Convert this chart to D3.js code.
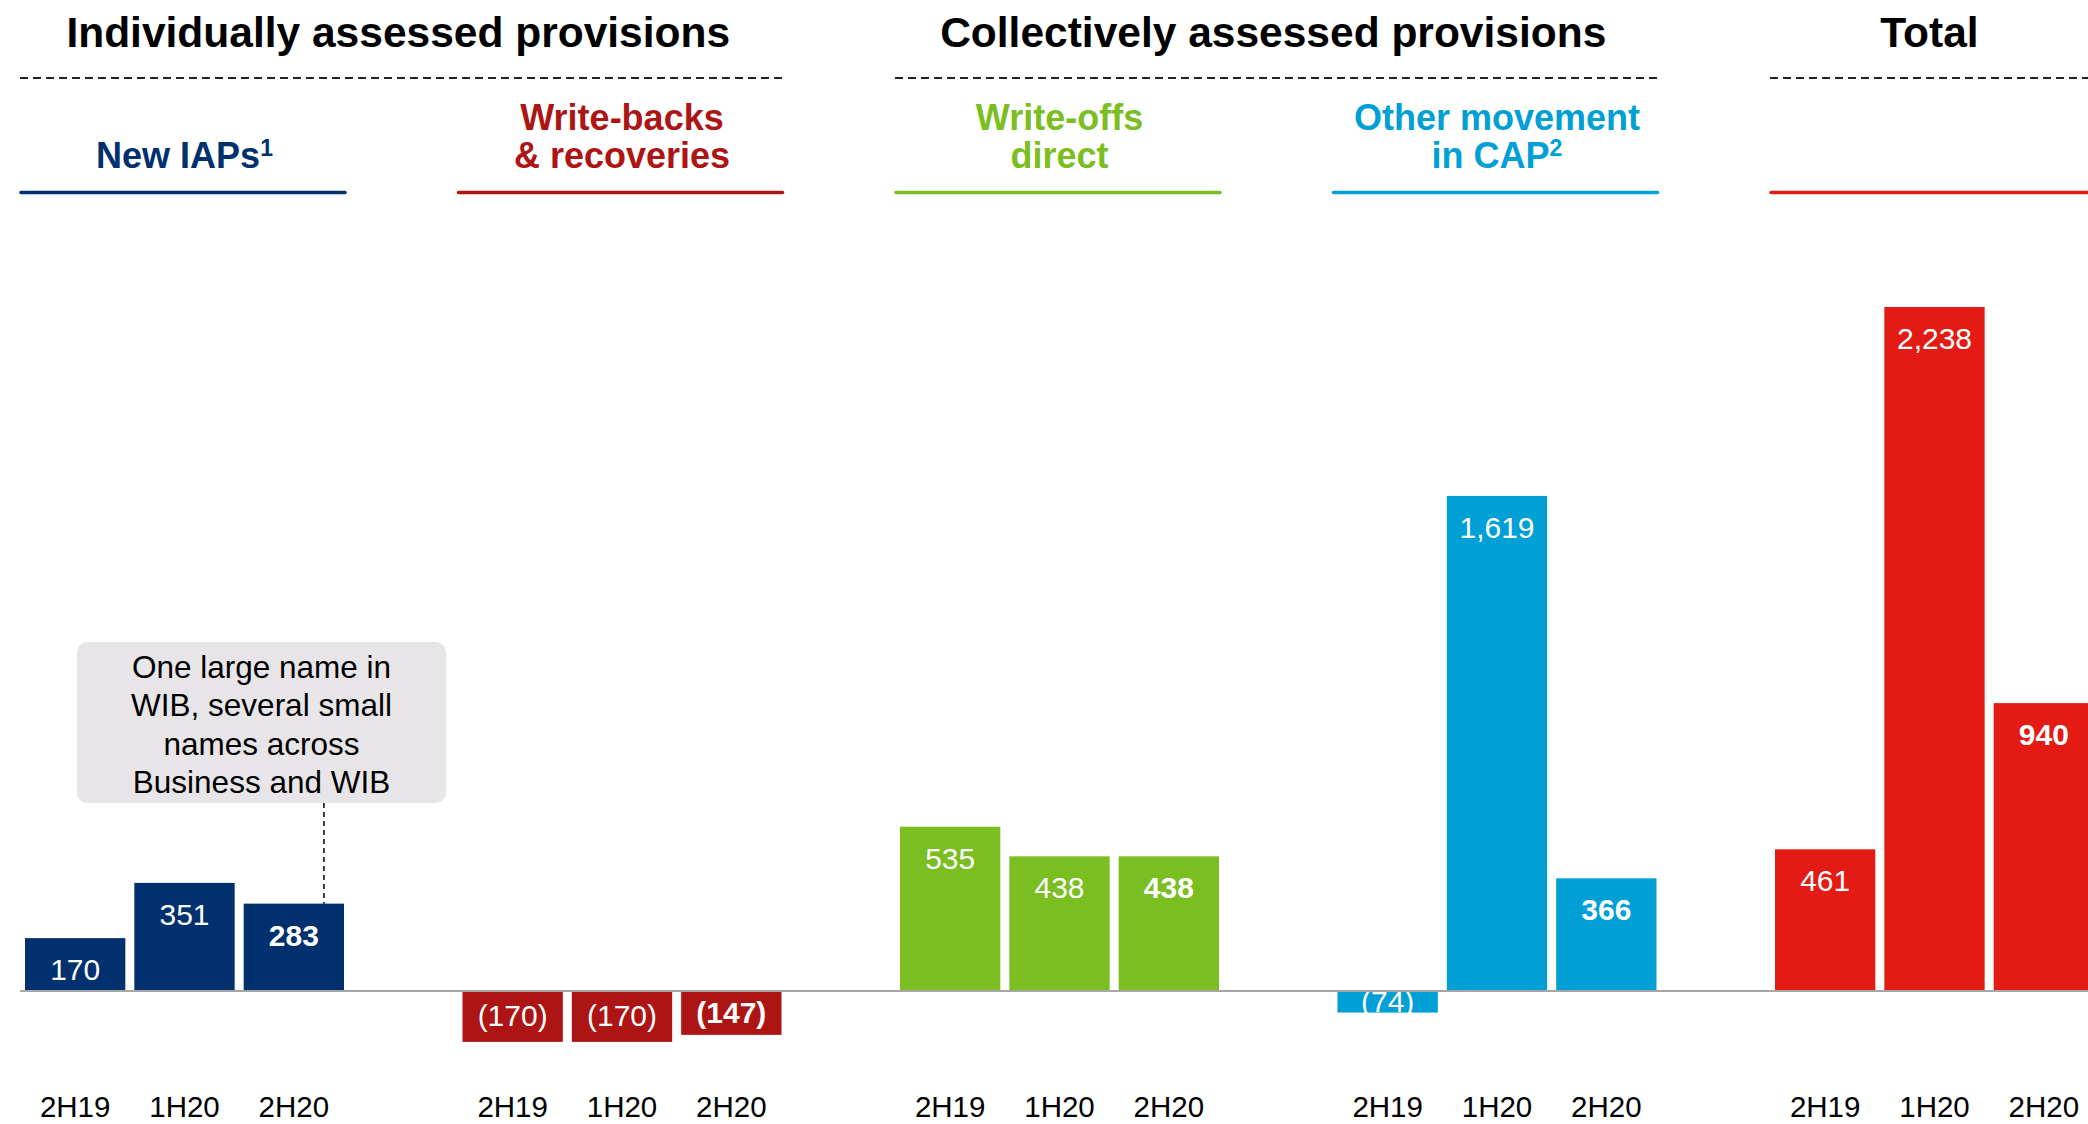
<!DOCTYPE html>
<html>
<head>
<meta charset="utf-8">
<script src="https://cdn.jsdelivr.net/npm/d3@7"></script>
<style>
  html, body { margin: 0; padding: 0; background: #ffffff; }
  svg { display: block; font-family: "Liberation Sans", Arial, Helvetica, sans-serif; }
</style>
</head>
<body>
<svg id="chart" width="2088" height="1124"></svg>
<script>
// ---------------- data ----------------
const periods = ["2H19", "1H20", "2H20"];
const groupKeys = ["newIAP", "writeBacks", "writeOffs", "otherCAP", "total"];
const newIAPs = [170, 351, 283];
const writeBacks = [-170, -170, -147];
const writeOffs = [535, 438, 438];
const otherCAP = [-74, 1619, 366];
const totals = [461, 2238, 940];
const groupValues = [newIAPs, writeBacks, writeOffs, otherCAP, totals];
const groupLabelLines = [["New IAPs"], ["Write-backs", "& recoveries"], ["Write-offs", "direct"], ["Other movement", "in CAP"], []];
const groupLabelSup = ["1", "", "", "2", ""];
const groupColors = ["#00306E", "#AD1414", "#7ABE21", "#009FD6", "#E31B14"];
const sectionTitles = ["Individually assessed provisions", "Collectively assessed provisions", "Total"];
const sectionGroups = [[0, 1], [2, 3], [4, 4]];
const boldPeriod = "2H20";
const noteLines = ["One large name in", "WIB, several small", "names across", "Business and WIB"];

// ---------------- layout ----------------
const W = 2088, H = 1124;
const svg = d3.select("#chart");

const x0 = d3.scaleBand().domain(groupKeys).range([25, 2094]).paddingInner(118.5 / 437.5).paddingOuter(0);
const x1 = d3.scaleBand().domain(periods).range([0, x0.bandwidth()]).paddingInner(9 / 109).paddingOuter(0);
const y = d3.scaleLinear().domain([0, 2238]).range([990, 307]);

const fmt = v => v < 0 ? "(" + d3.format(",")(-v) + ")" : d3.format(",")(v);

// section titles + dashed rules
sectionGroups.forEach((sg, i) => {
  const xs = x0(groupKeys[sg[0]]) - 5;
  const xe = Math.min(W, x0(groupKeys[sg[1]]) + x0.bandwidth() + 1);
  const xeFull = x0(groupKeys[sg[1]]) + x0.bandwidth() + 1;
  svg.append("line")
    .attr("x1", xs).attr("x2", xe).attr("y1", 78).attr("y2", 78)
    .attr("stroke", "#222").attr("stroke-width", 2).attr("stroke-dasharray", "8,5");
  svg.append("text")
    .attr("x", (xs + xeFull) / 2 - 3).attr("y", 47)
    .attr("text-anchor", "middle")
    .attr("font-size", 42.5).attr("font-weight", "bold").attr("fill", "#000")
    .text(sectionTitles[i]);
});

// group headers + coloured underlines
groupKeys.forEach((k, gi) => {
  const gx = x0(k);
  const cx = gx + x0.bandwidth() / 2;
  const lines = groupLabelLines[gi];
  lines.forEach((ln, li) => {
    const t = svg.append("text")
      .attr("x", cx)
      .attr("y", 168 - (lines.length - 1 - li) * 38)
      .attr("text-anchor", "middle")
      .attr("font-size", 36).attr("font-weight", "bold")
      .attr("fill", groupColors[gi]);
    t.append("tspan").text(ln);
    if (li === lines.length - 1 && groupLabelSup[gi]) {
      t.append("tspan").attr("font-size", 23).attr("dy", -12).text(groupLabelSup[gi]);
    }
  });
  svg.append("line")
    .attr("x1", gx - 4).attr("x2", Math.min(W + 10, gx + x0.bandwidth() + 1))
    .attr("y1", 192.5).attr("y2", 192.5)
    .attr("stroke", groupColors[gi]).attr("stroke-width", 3.5).attr("stroke-linecap", "round");
});

// bars
const groupsSel = svg.selectAll("g.grp")
  .data(groupKeys.map((k, i) => ({ key: k, idx: i, values: groupValues[i] })))
  .join("g").attr("class", "grp")
  .attr("transform", d => `translate(${x0(d.key)},0)`);

const barData = d => d.values.map((v, j) => ({ period: periods[j], value: v, color: groupColors[d.idx] }));

groupsSel.selectAll("rect")
  .data(barData)
  .join("rect")
  .attr("x", d => x1(d.period))
  .attr("width", x1.bandwidth())
  .attr("y", d => y(Math.max(0, d.value)))
  .attr("height", d => Math.abs(y(d.value) - y(0)))
  .attr("fill", d => d.color);

// value labels
groupsSel.selectAll("text.val")
  .data(barData)
  .join("text").attr("class", "val")
  .attr("x", d => x1(d.period) + x1.bandwidth() / 2)
  .attr("y", d => d.value >= 0 ? y(d.value) + 42 : (y(0) + y(d.value)) / 2 + 10.5)
  .attr("text-anchor", "middle")
  .attr("font-size", 30)
  .attr("font-weight", d => d.period === boldPeriod ? "bold" : "normal")
  .attr("fill", "#fff")
  .text(d => fmt(d.value));

// category labels
groupsSel.selectAll("text.cat")
  .data(barData)
  .join("text").attr("class", "cat")
  .attr("x", d => x1(d.period) + x1.bandwidth() / 2)
  .attr("y", 1117)
  .attr("text-anchor", "middle")
  .attr("font-size", 29.5)
  .attr("fill", "#000")
  .text(d => d.period);

// zero baseline
svg.append("line")
  .attr("x1", 20).attr("x2", W).attr("y1", y(0) + 1).attr("y2", y(0) + 1)
  .attr("stroke", "#A6A6A6").attr("stroke-width", 2);

// annotation box
const noteX = 77, noteY = 642, noteW = 369, noteH = 161;
svg.append("rect")
  .attr("x", noteX).attr("y", noteY).attr("width", noteW).attr("height", noteH)
  .attr("rx", 10).attr("ry", 10).attr("fill", "#E7E5E8");
noteLines.forEach((ln, i) => {
  svg.append("text")
    .attr("x", noteX + noteW / 2).attr("y", noteY + 36 + i * 38.3)
    .attr("text-anchor", "middle").attr("font-size", 31.5).attr("fill", "#000")
    .text(ln);
});
const leaderX = x0("newIAP") + x1("2H20") + x1.bandwidth() * 0.8;
svg.append("line")
  .attr("x1", leaderX).attr("x2", leaderX)
  .attr("y1", noteY + noteH).attr("y2", y(newIAPs[2]))
  .attr("stroke", "#000").attr("stroke-width", 1.5).attr("stroke-dasharray", "5,4");
</script>
</body>
</html>
